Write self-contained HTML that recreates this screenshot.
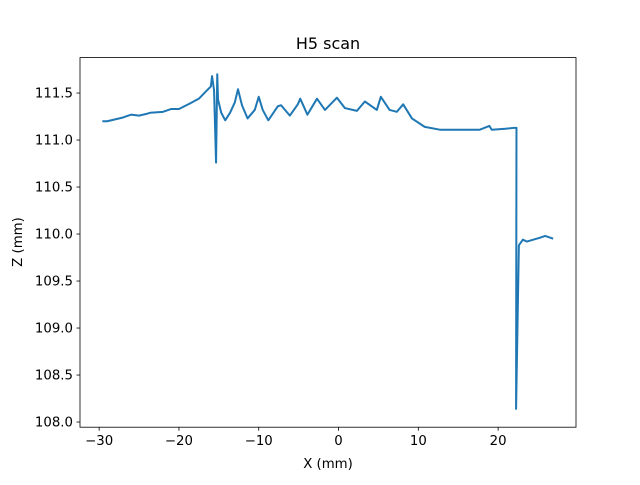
<!DOCTYPE html>
<html><head><meta charset="utf-8"><style>
body{margin:0;background:#fff;font-family:"Liberation Sans","DejaVu Sans",sans-serif}
svg text{font-family:"DejaVu Sans","Liberation Sans",sans-serif;font-size:13.3px;fill:#000}
</style></head><body>
<svg id="chart" width="640" height="480">
<rect width="640" height="480" fill="#fff"/>
<text x="328" y="49" text-anchor="middle" style="font-size:16px">H5 scan</text>
<g id="plot"></g>
<rect x="80" y="57.6" width="496" height="369.6" fill="none" stroke="#000" stroke-width="0.8"/>
<text x="328" y="468" text-anchor="middle">X (mm)</text>
<text transform="translate(22,242) rotate(-90)" text-anchor="middle">Z (mm)</text>
</svg>
<script>
const xs=[-29.6,-29,-28,-27,-26,-25,-24,-23.6,-22,-21,-20,-18.6,-17.5,-16.7,-16,-15.85,-15.6,-15.35,-15.2,-15.1,-14.7,-14.2,-13.6,-13,-12.6,-12.1,-11.4,-10.5,-10,-9.5,-8.8,-7.6,-7.2,-6.1,-5.1,-4.8,-3.9,-2.7,-1.7,-0.2,0.8,2.3,3.3,4.8,5.3,6.4,7.3,8.1,9.2,10.8,12.7,15.2,17.7,18.9,19.2,20.9,22,22.3,22.25,22.6,23.1,23.6,25.2,25.9,26.9];
const ys=[111.2,111.2,111.22,111.24,111.27,111.26,111.28,111.29,111.3,111.33,111.33,111.39,111.44,111.51,111.57,111.68,111.53,110.76,111.7,111.43,111.29,111.21,111.29,111.4,111.54,111.37,111.23,111.32,111.46,111.32,111.21,111.36,111.37,111.26,111.38,111.44,111.27,111.44,111.32,111.45,111.34,111.31,111.41,111.32,111.46,111.32,111.3,111.38,111.23,111.14,111.11,111.11,111.11,111.15,111.11,111.12,111.13,111.13,108.14,109.88,109.94,109.92,109.96,109.98,109.95];
const xTicks=[-30,-20,-10,0,10,20];
const yTicks=[108.0,108.5,109.0,109.5,110.0,110.5,111.0,111.5];
const X0=-32.4,X1=29.76,Y0=107.945,Y1=111.877;
const L=80,R=576,T=57.6,B=427.2;
const sx=v=>L+(v-X0)/(X1-X0)*(R-L);
const sy=v=>B-(v-Y0)/(Y1-Y0)*(B-T);
const NS="http://www.w3.org/2000/svg";
const g=document.getElementById('plot');
function mk(t,a){const e=document.createElementNS(NS,t);for(const k in a)e.setAttribute(k,a[k]);g.appendChild(e);return e;}
xTicks.forEach(v=>{
 const l=mk('line',{x1:sx(v),x2:sx(v),y1:B,y2:B+3.5,stroke:'#000','stroke-width':0.8});
 
 
 const t=mk('text',{x:sx(v),y:B+18,'text-anchor':'middle'});t.textContent=v<0?'\u2212'+(-v):v;
 
 
});
yTicks.forEach(v=>{
 const l=mk('line',{x1:L-3.5,x2:L,y1:sy(v),y2:sy(v),stroke:'#000','stroke-width':0.8});
 
 
 const t=mk('text',{x:L-7,y:sy(v)+4.5,'text-anchor':'end'});t.textContent=v.toFixed(1);
 
 
});
const p=mk('polyline',{points:xs.map((x,i)=>sx(x)+','+sy(ys[i])).join(' '),fill:'none',stroke:'#1f77b4','stroke-width':2,'stroke-linejoin':'round'});


</script>
</body></html>
